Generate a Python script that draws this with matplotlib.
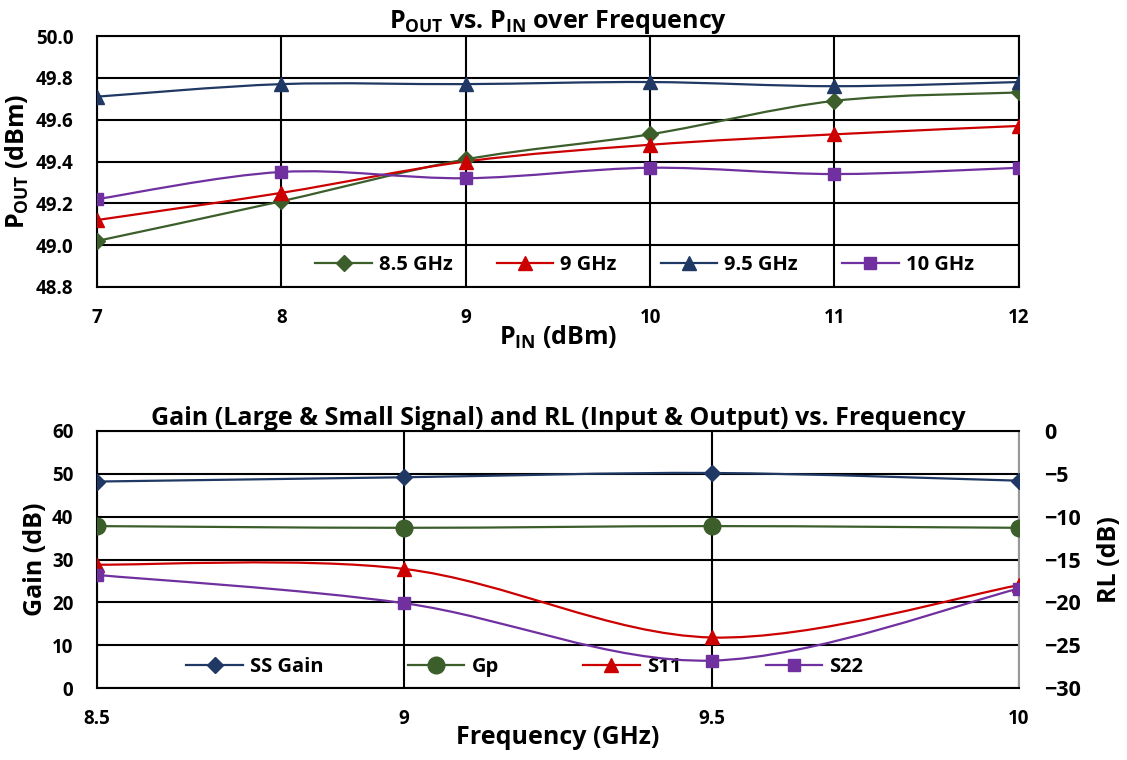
import matplotlib
matplotlib.use("Agg")
import matplotlib.pyplot as plt
from matplotlib.path import Path
from matplotlib.patches import PathPatch
from matplotlib.lines import Line2D
import numpy as np

plt.rcParams['font.family'] = ['Open Sans', 'DejaVu Sans']
plt.rcParams['font.weight'] = 'bold'
plt.rcParams['mathtext.default'] = 'regular'

# top chart: Pout vs Pin
pin = [7, 8, 9, 10, 11, 12]
pout_85 = [49.02, 49.21, 49.41, 49.53, 49.69, 49.73]
pout_9 = [49.12, 49.25, 49.40, 49.48, 49.53, 49.57]
pout_95 = [49.71, 49.77, 49.77, 49.78, 49.76, 49.78]
pout_10 = [49.22, 49.35, 49.32, 49.37, 49.34, 49.37]
top_labels = ['8.5 GHz', '9 GHz', '9.5 GHz', '10 GHz']

# bottom chart: gain and return loss
freq = [8.5, 9, 9.5, 10]
ss_gain = [48.2, 49.2, 50.2, 48.4]
gp = [37.8, 37.4, 37.8, 37.4]
s11 = [-15.6, -16.1, -24.1, -18.0]
s22 = [-16.8, -20.1, -26.8, -18.4]

green = '#3B5E2B'
red = '#CC0000'
navy = '#1F3864'
purple = '#7030A0'

TICK = 13.5
LAB = 18
TITLE = 18
LEG = 14.5


def smooth(ax, x, y, color, lw=1.6):
    # excel style smoothed line (catmull-rom as cubic bezier)
    x = np.asarray(x, float)
    y = np.asarray(y, float)
    pts = np.column_stack([x, y])
    verts = [pts[0]]
    codes = [Path.MOVETO]
    n = len(pts)
    for i in range(n - 1):
        p0 = pts[max(i - 1, 0)]
        p1 = pts[i]
        p2 = pts[i + 1]
        p3 = pts[min(i + 2, n - 1)]
        c1 = p1 + (p2 - p0) / 6
        c2 = p2 - (p3 - p1) / 6
        verts += [c1, c2, p2]
        codes += [Path.CURVE4] * 3
    ax.add_patch(PathPatch(Path(verts, codes), fill=False, edgecolor=color, lw=lw, zorder=3))


def style(ax):
    ax.grid(True, color='black', lw=1.5)
    ax.set_axisbelow(True)
    for s in ax.spines.values():
        s.set_color('black')
        s.set_linewidth(1.5)
    ax.tick_params(length=0, labelsize=TICK)
    for lab in ax.get_xticklabels() + ax.get_yticklabels():
        lab.set_fontweight('bold')


fig = plt.figure(figsize=(11.27, 7.6), dpi=100)

# ---- top ----
ax1 = fig.add_axes([0.086, 0.6224, 0.818, 0.3302])
series = [(pout_85, green, 'D', 8), (pout_9, red, '^', 10), (pout_95, navy, '^', 10), (pout_10, purple, 's', 8)]
handles = []
for (vals, c, m, ms), lab in zip(series, top_labels):
    smooth(ax1, pin, vals, c)
    ax1.plot(pin, vals, ls='none', marker=m, ms=ms, color=c, zorder=4)
    handles.append(Line2D([], [], color=c, marker=m, ms=ms, lw=1.6, label=lab))
ax1.set_xlim(7, 12)
ax1.set_ylim(48.8, 50.0)
ax1.set_xticks(pin)
ax1.set_yticks(np.arange(48.8, 50.01, 0.2))
ax1.set_yticklabels([f'{v:.1f}' for v in np.arange(48.8, 50.01, 0.2)])
style(ax1)
ax1.tick_params(axis='x', pad=15)
ax1.tick_params(axis='y', pad=17)
ax1.set_title(r'$P_{OUT}$ vs. $P_{IN}$ over Frequency', fontsize=TITLE, fontweight='bold', pad=4)
ax1.set_xlabel(r'$P_{IN}$ (dBm)', fontsize=LAB, fontweight='bold', labelpad=-3)
ax1.set_ylabel(r'$P_{OUT}$ (dBm)', fontsize=LAB, fontweight='bold', labelpad=3)
ax1.legend(handles=handles, ncol=4, frameon=False, loc='center', bbox_to_anchor=(0.594, 0.088),
           handlelength=2.8, columnspacing=2.2, handletextpad=0.35,
           prop={'weight': 'bold', 'size': LEG})

# ---- bottom ----
ax2 = fig.add_axes([0.086, 0.0947, 0.818, 0.3382])
ax3 = ax2.twinx()
smooth(ax2, freq, ss_gain, navy)
ax2.plot(freq, ss_gain, ls='none', marker='D', ms=8, color=navy, zorder=4)
smooth(ax2, freq, gp, green)
ax2.plot(freq, gp, ls='none', marker='o', ms=12, color=green, zorder=4)
smooth(ax3, freq, s11, red)
ax3.plot(freq, s11, ls='none', marker='^', ms=10, color=red, zorder=4)
smooth(ax3, freq, s22, purple)
ax3.plot(freq, s22, ls='none', marker='s', ms=8, color=purple, zorder=4)
ax2.set_xlim(8.5, 10)
ax2.set_ylim(0, 60)
ax3.set_ylim(-30, 0)
ax2.set_xticks(freq)
ax2.set_xticklabels(['8.5', '9', '9.5', '10'])
ax2.set_yticks(range(0, 61, 10))
ax3.set_yticks(range(-30, 1, 5))
style(ax2)
ax3.tick_params(length=0, labelsize=15.5, pad=18)
for lab in ax3.get_yticklabels():
    lab.set_fontweight('bold')
for s in ax3.spines.values():
    s.set_visible(False)
ax2.spines['right'].set_color('#999999')
ax2.tick_params(axis='x', pad=15)
ax2.tick_params(axis='y', pad=17)
ax2.set_title('Gain (Large & Small Signal) and RL (Input & Output) vs. Frequency',
              fontsize=TITLE, fontweight='bold', pad=4)
ax2.set_xlabel('Frequency (GHz)', fontsize=LAB, fontweight='bold', labelpad=-3)
ax2.set_ylabel('Gain (dB)', fontsize=LAB, fontweight='bold', labelpad=3)
ax3.set_ylabel('RL (dB)', fontsize=LAB, fontweight='bold', labelpad=12)
h2 = [Line2D([], [], color=navy, marker='D', ms=8, lw=1.6, label='SS Gain'),
      Line2D([], [], color=green, marker='o', ms=12, lw=1.6, label='Gp'),
      Line2D([], [], color=red, marker='^', ms=10, lw=1.6, label='S11'),
      Line2D([], [], color=purple, marker='s', ms=8, lw=1.6, label='S22')]
ax2.legend(handles=h2, ncol=4, frameon=False, loc='center', bbox_to_anchor=(0.464, 0.08),
           handlelength=2.8, columnspacing=4.2, handletextpad=0.35,
           prop={'weight': 'bold', 'size': LEG})

fig.savefig('out.png', dpi=100)
